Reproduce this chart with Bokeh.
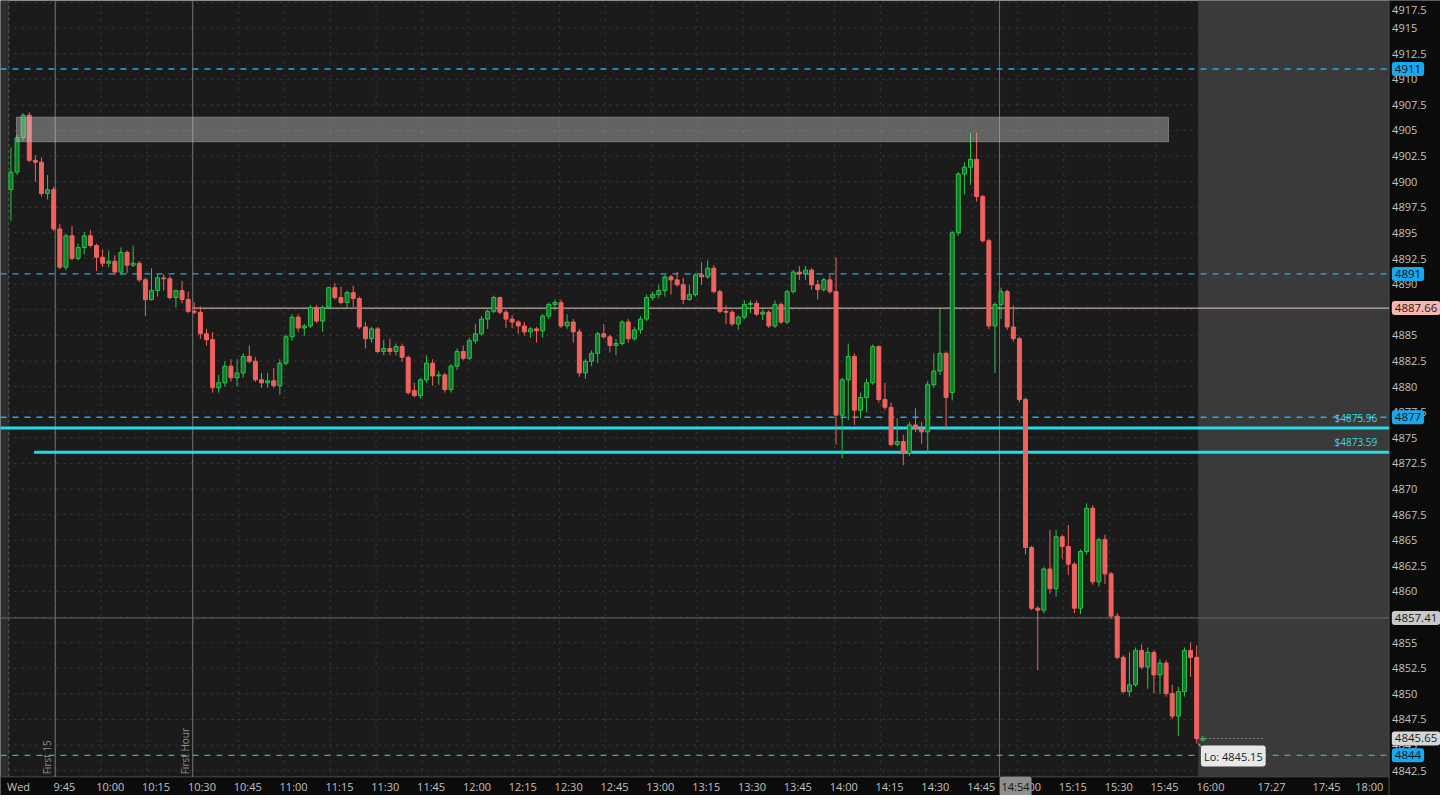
from math import pi
from bokeh.plotting import figure
from bokeh.models import Range1d, BoxAnnotation, Label, ColumnDataSource
from bokeh.core.properties import value
from bokeh.embed import file_html
from bokeh.resources import INLINE

# ---------------- data (2-minute candles, minutes since 9:30) ----------------
BAR_MIN = 2

opens = [
    4899.22, 4900.94, 4904.29, 4906.49, 4902.09, 4901.90, 4898.84, 4899.22, 4895.39, 4891.66,
    4894.72, 4892.52, 4893.58, 4894.72, 4893.77, 4892.62, 4892.04, 4892.24, 4891.18, 4893.10,
    4891.85, 4892.04, 4890.42, 4888.50, 4889.37, 4890.61, 4890.52, 4888.69, 4889.37, 4888.50,
    4887.35, 4887.26, 4885.15, 4884.58, 4879.89, 4880.37, 4881.99, 4880.85, 4881.33, 4882.95,
    4882.47, 4880.66, 4880.37, 4880.56, 4880.08, 4882.28, 4884.86, 4886.78, 4885.72, 4885.92,
    4887.73, 4886.40, 4887.73, 4889.65, 4888.69, 4888.21, 4889.17, 4888.60, 4885.82, 4884.67,
    4885.63, 4883.43, 4883.72, 4883.43, 4883.91, 4882.86, 4879.60, 4879.12, 4880.66, 4882.28,
    4881.04, 4881.14, 4879.70, 4881.99, 4883.43, 4882.76, 4884.48, 4885.15, 4886.59, 4887.35,
    4888.69, 4887.26, 4886.59, 4886.30, 4885.92, 4885.34, 4885.63, 4885.44, 4886.88, 4888.02,
    4888.21, 4885.92, 4886.30, 4885.34, 4881.33, 4882.47, 4883.24, 4885.15, 4884.86, 4884.01,
    4884.20, 4886.30, 4884.67, 4885.53, 4886.59, 4888.69, 4888.98, 4889.37, 4890.71, 4890.42,
    4889.94, 4888.50, 4888.98, 4890.90, 4890.71, 4891.56, 4889.27, 4887.35, 4887.26, 4886.11,
    4886.78, 4888.02, 4888.12, 4887.07, 4887.26, 4885.92, 4888.02, 4886.30, 4889.27, 4891.18,
    4890.99, 4891.37, 4889.94, 4889.46, 4890.42, 4889.27, 4877.21, 4880.66, 4882.95, 4877.69,
    4878.93, 4880.37, 4883.91, 4878.74, 4877.98, 4874.34, 4874.63, 4873.48, 4876.25, 4875.87,
    4875.58, 4880.18, 4881.52, 4883.24, 4879.41, 4895.01, 4900.75, 4901.42, 4902.19, 4898.55,
    4894.24, 4885.92, 4888.02, 4889.27, 4885.82, 4884.67, 4878.74, 4864.29, 4858.36, 4858.17,
    4862.19, 4860.27, 4865.34, 4864.39, 4862.66, 4858.36, 4863.91, 4868.12, 4860.94, 4865.06,
    4861.71, 4857.59, 4853.57, 4850.22, 4850.89, 4854.24, 4852.62, 4854.05, 4851.85, 4853.00,
    4850.03, 4847.83, 4850.22, 4854.24, 4853.57, 4845.50,
]

highs = [
    4903.34, 4904.58, 4906.68, 4906.78, 4902.57, 4902.38, 4900.65, 4899.51, 4895.87, 4894.91,
    4895.68, 4893.96, 4895.11, 4895.30, 4893.96, 4893.39, 4893.29, 4892.81, 4893.58, 4893.29,
    4893.77, 4892.24, 4890.61, 4891.56, 4890.99, 4890.99, 4890.80, 4889.46, 4890.33, 4889.27,
    4888.21, 4887.83, 4885.63, 4885.34, 4881.14, 4882.47, 4882.67, 4882.67, 4883.24, 4884.01,
    4882.86, 4881.33, 4881.33, 4881.81, 4882.67, 4885.05, 4887.07, 4887.07, 4886.11, 4887.92,
    4887.92, 4887.92, 4889.75, 4890.13, 4889.75, 4889.37, 4889.84, 4888.79, 4886.30, 4885.82,
    4885.82, 4884.58, 4884.67, 4884.20, 4884.20, 4883.05, 4880.37, 4880.85, 4883.05, 4882.67,
    4881.52, 4881.33, 4882.19, 4883.72, 4884.01, 4884.77, 4886.11, 4886.88, 4887.54, 4888.88,
    4888.79, 4887.45, 4886.97, 4886.49, 4886.30, 4885.82, 4885.82, 4887.07, 4888.21, 4888.50,
    4888.50, 4887.07, 4886.59, 4885.63, 4882.67, 4883.53, 4885.34, 4886.11, 4885.05, 4884.67,
    4886.49, 4886.59, 4885.82, 4886.88, 4888.98, 4889.27, 4889.94, 4890.90, 4890.90, 4891.18,
    4890.61, 4889.94, 4891.08, 4892.14, 4892.33, 4891.85, 4889.46, 4887.92, 4887.45, 4886.97,
    4888.41, 4888.41, 4888.41, 4887.54, 4887.45, 4888.41, 4888.21, 4889.46, 4891.37, 4891.76,
    4891.76, 4891.56, 4890.42, 4890.61, 4890.90, 4892.62, 4880.85, 4884.20, 4883.24, 4879.41,
    4880.76, 4884.10, 4884.01, 4880.37, 4878.45, 4876.92, 4875.29, 4876.54, 4877.88, 4876.54,
    4880.56, 4883.24, 4887.54, 4883.43, 4895.20, 4900.94, 4901.90, 4904.77, 4904.77, 4898.74,
    4894.43, 4888.21, 4889.65, 4889.46, 4887.92, 4884.86, 4878.93, 4864.48, 4858.55, 4862.38,
    4866.01, 4866.01, 4865.54, 4866.49, 4862.86, 4864.10, 4868.60, 4868.41, 4865.25, 4865.54,
    4861.90, 4857.88, 4853.76, 4854.05, 4854.53, 4854.82, 4854.53, 4854.24, 4853.38, 4853.28,
    4850.89, 4850.70, 4854.53, 4855.01, 4854.72, 4845.90,
]

lows = [
    4896.16, 4900.65, 4904.00, 4901.90, 4899.99, 4898.55, 4898.26, 4895.20, 4891.47, 4891.37,
    4892.33, 4892.33, 4892.91, 4893.58, 4891.28, 4891.66, 4891.66, 4890.90, 4890.90, 4891.08,
    4891.66, 4890.23, 4886.88, 4888.41, 4888.79, 4889.37, 4888.50, 4887.73, 4888.12, 4887.16,
    4887.07, 4884.67, 4884.01, 4879.41, 4879.41, 4879.99, 4880.47, 4879.99, 4880.85, 4882.28,
    4880.47, 4879.89, 4879.89, 4879.89, 4879.22, 4882.09, 4884.48, 4885.34, 4884.96, 4885.72,
    4886.21, 4885.34, 4887.54, 4888.50, 4888.02, 4887.64, 4887.73, 4885.63, 4883.72, 4884.29,
    4883.24, 4883.05, 4883.05, 4883.05, 4882.38, 4879.22, 4878.93, 4878.84, 4880.37, 4880.08,
    4880.18, 4879.41, 4879.41, 4881.61, 4882.57, 4882.57, 4884.20, 4884.96, 4885.63, 4887.16,
    4887.07, 4885.72, 4885.72, 4885.15, 4884.96, 4884.77, 4884.29, 4884.77, 4886.59, 4887.45,
    4885.72, 4885.63, 4884.29, 4880.95, 4880.76, 4881.99, 4882.28, 4884.67, 4883.34, 4883.05,
    4884.01, 4884.29, 4884.48, 4885.15, 4886.40, 4888.41, 4888.60, 4888.79, 4888.98, 4889.75,
    4888.02, 4888.41, 4888.79, 4889.94, 4890.52, 4889.08, 4887.16, 4886.11, 4885.92, 4885.53,
    4886.59, 4887.16, 4886.88, 4886.49, 4885.72, 4885.72, 4886.11, 4886.11, 4889.08, 4890.42,
    4890.42, 4889.46, 4888.50, 4889.27, 4889.08, 4874.34, 4873.00, 4876.73, 4876.25, 4876.92,
    4877.50, 4880.18, 4878.45, 4877.69, 4874.15, 4874.15, 4872.33, 4873.19, 4875.58, 4874.44,
    4873.48, 4879.89, 4881.14, 4875.77, 4878.64, 4894.72, 4898.74, 4899.70, 4898.07, 4894.05,
    4885.63, 4881.33, 4886.59, 4885.53, 4884.39, 4878.45, 4863.62, 4858.17, 4852.33, 4857.88,
    4859.79, 4859.50, 4863.14, 4861.61, 4857.88, 4857.78, 4863.62, 4860.65, 4860.46, 4860.75,
    4857.31, 4853.38, 4850.04, 4849.74, 4850.70, 4852.43, 4850.51, 4850.03, 4849.97, 4849.74,
    4847.54, 4845.92, 4849.74, 4851.66, 4845.15, 4845.35,
]

closes = [
    4900.94, 4904.29, 4906.49, 4902.09, 4901.90, 4898.84, 4899.22, 4895.39, 4891.66, 4894.72,
    4892.52, 4893.58, 4894.72, 4893.77, 4892.62, 4892.04, 4892.24, 4891.18, 4893.10, 4891.85,
    4892.04, 4890.42, 4888.50, 4889.37, 4890.61, 4890.52, 4888.69, 4889.37, 4888.50, 4887.35,
    4887.26, 4885.15, 4884.58, 4879.89, 4880.37, 4881.99, 4880.85, 4881.33, 4882.95, 4882.47,
    4880.66, 4880.37, 4880.56, 4880.08, 4882.28, 4884.86, 4886.78, 4885.72, 4885.92, 4887.73,
    4886.40, 4887.73, 4889.65, 4888.69, 4888.21, 4889.17, 4888.60, 4885.82, 4884.67, 4885.63,
    4883.43, 4883.72, 4883.43, 4883.91, 4882.86, 4879.41, 4879.12, 4880.66, 4882.28, 4881.04,
    4881.14, 4879.70, 4881.99, 4883.43, 4882.76, 4884.48, 4885.15, 4886.59, 4887.35, 4888.69,
    4887.26, 4886.59, 4886.30, 4885.92, 4885.34, 4885.63, 4885.44, 4886.88, 4888.02, 4888.21,
    4885.92, 4886.30, 4885.34, 4881.33, 4882.47, 4883.24, 4885.15, 4884.86, 4884.01, 4884.20,
    4886.30, 4884.67, 4885.53, 4886.59, 4888.69, 4888.98, 4889.37, 4890.71, 4890.42, 4889.94,
    4888.50, 4888.98, 4890.90, 4890.71, 4891.56, 4889.27, 4887.35, 4887.26, 4886.11, 4886.78,
    4888.02, 4888.12, 4887.07, 4887.26, 4885.92, 4888.02, 4886.30, 4889.27, 4891.18, 4890.99,
    4891.37, 4889.94, 4889.46, 4890.42, 4889.27, 4877.21, 4880.66, 4882.95, 4877.69, 4878.93,
    4880.37, 4883.91, 4878.74, 4877.98, 4874.34, 4874.63, 4873.48, 4876.25, 4875.87, 4875.58,
    4880.18, 4881.52, 4883.24, 4878.93, 4895.01, 4900.75, 4901.42, 4902.19, 4898.55, 4894.24,
    4885.92, 4888.02, 4889.27, 4885.82, 4884.67, 4878.74, 4864.29, 4858.36, 4858.17, 4862.19,
    4860.27, 4865.34, 4864.39, 4862.66, 4858.36, 4863.91, 4868.12, 4860.94, 4865.06, 4861.71,
    4857.59, 4853.57, 4850.22, 4850.89, 4854.24, 4852.62, 4854.05, 4851.85, 4853.00, 4850.03,
    4847.83, 4850.22, 4854.24, 4853.57, 4845.63, 4845.65,
]

time_labels = ["Wed", "9:45", "10:00", "10:15", "10:30", "10:45", "11:00", "11:15", "11:30",
               "11:45", "12:00", "12:15", "12:30", "12:45", "13:00", "13:15", "13:30", "13:45",
               "14:00", "14:15", "14:30", "14:45", "15:00", "15:15", "15:30", "15:45", "16:00",
               "17:27", "17:45", "18:00"]
time_slots = [0, 15, 30, 45, 60, 75, 90, 105, 120, 135, 150, 165, 180, 195, 210, 225, 240,
              255, 270, 285, 300, 315, 330, 345, 360, 375, 390, 410, 428, 442]

price_ticks = [4842.5, 4845, 4847.5, 4850, 4852.5, 4855, 4857.5, 4860, 4862.5, 4865, 4867.5,
               4870, 4872.5, 4875, 4877.5, 4880, 4882.5, 4885, 4887.5, 4890, 4892.5, 4895,
               4897.5, 4900, 4902.5, 4905, 4907.5, 4910, 4912.5, 4915, 4917.5]

alert_levels = [4911, 4891, 4877, 4844]
support_levels = [4875.96, 4873.59]
support_start = [-3.0, 8.6]          # minutes since 9:30
first_hour_low = 4887.66
first_hour_start = 60.5
ref_level = 4857.41
last_price = 4845.65
zone_low, zone_high = 4903.9, 4906.3
zone_start, zone_end = 2.8, 379.8
markers = [("First 15", 15), ("First Hour", 60)]
now_slot, now_label = 324, "14:54"
session_end = 389.5

# ---------------- layout constants ----------------
X0, XR = -2.41, 468.79          # whole canvas (chart + price axis)
PX1 = 451.96                    # right edge of chart area
Y0, Y1 = 4840.08, 4917.69       # whole canvas (chart + time axis)
PY0 = 4841.9                    # bottom edge of chart area
FONT = "Open Sans"
AX_BG = "#0b0b0b"
LBL = "#c2c2c2"

p = figure(width=1440, height=795, x_range=Range1d(X0, XR), y_range=Range1d(Y0, Y1),
           output_backend="svg", toolbar_location=None,
           x_axis_type=None, y_axis_type=None,
           background_fill_color="#1b1b1b", border_fill_color=AX_BG,
           outline_line_color=None, min_border=0)

# backgrounds: previous-day strip, after-hours shading, axis panels
p.add_layout(BoxAnnotation(right=0.3, fill_color="#2d2d2d", fill_alpha=1, line_color=None, level="image"))
p.add_layout(BoxAnnotation(left=session_end, fill_color="#3a3a3a", fill_alpha=1, line_color=None, level="image"))
p.add_layout(BoxAnnotation(left=PX1, fill_color=AX_BG, fill_alpha=1, line_color=None, level="image"))
p.add_layout(BoxAnnotation(top=PY0, fill_color=AX_BG, fill_alpha=1, line_color=None, level="image"))

# dotted grid
gx = [s + 0.5 for s in time_slots[1:]]
p.segment(x0=gx, y0=[PY0] * len(gx), x1=gx, y1=[Y1] * len(gx),
          line_color="#3d3d3d", line_dash="2 5", line_width=1)
p.segment(x0=[X0] * len(price_ticks), y0=price_ticks, x1=[PX1] * len(price_ticks), y1=price_ticks,
          line_color="#3d3d3d", line_dash="2 5", line_width=1)

# axis lines
p.segment(x0=[0.3], y0=[PY0], x1=[0.3], y1=[Y1], line_color="#5a5a5a", line_dash="3 3")
p.segment(x0=[PX1], y0=[Y0], x1=[PX1], y1=[Y1], line_color="#4a4a4a", line_width=1)
p.segment(x0=[X0], y0=[PY0], x1=[PX1], y1=[PY0], line_color="#4a4a4a", line_width=1)

# axis tick labels (price on the right, time at the bottom)
p.text(x=[PX1 + 1.0] * (len(price_ticks) - 1), y=price_ticks[:-1],
       text=[f"{t:g}" for t in price_ticks[:-1]], text_align="left", text_baseline="middle",
       text_color=LBL, text_font=value(FONT), text_font_size="11px")
p.text(x=[PX1 + 1.0], y=[Y1 - 0.9], text=[f"{price_ticks[-1]:g}"], text_align="left",
       text_baseline="middle", text_color=LBL, text_font=value(FONT), text_font_size="11px")
p.text(x=[s + 3.5 for s in time_slots], y=[(Y0 + PY0) / 2] * len(time_slots), text=time_labels,
       text_align="center", text_baseline="middle", text_color=LBL,
       text_font=value(FONT), text_font_size="11px")

# vertical marker lines
for name, s in markers:
    p.segment(x0=[s + 0.5], y0=[PY0], x1=[s + 0.5], y1=[Y1], line_color="#767676", line_width=1)
    p.add_layout(Label(x=s + 0.5, y=PY0 + 0.25, text=name, angle=pi / 2, text_align="left",
                       text_baseline="bottom", x_offset=-1, text_color="#8e8e8e",
                       text_font=FONT, text_font_size="10px"))
p.segment(x0=[now_slot + 0.5], y0=[PY0], x1=[now_slot + 0.5], y1=[Y1], line_color="#6e6e6e", line_width=1)

# horizontal levels
p.segment(x0=[X0] * len(alert_levels), y0=alert_levels, x1=[PX1] * len(alert_levels), y1=alert_levels,
          line_color="#1eaee8", line_dash="6 6", line_width=1.4)
p.segment(x0=[X0], y0=[ref_level], x1=[PX1], y1=[ref_level], line_color="#666666", line_width=1)
p.segment(x0=[first_hour_start], y0=[first_hour_low], x1=[PX1], y1=[first_hour_low],
          line_color="#e9cbc6", line_width=1)
p.segment(x0=support_start, y0=support_levels, x1=[PX1] * len(support_levels), y1=support_levels,
          line_color="#22dde8", line_width=3)
for lvl in support_levels:
    p.add_layout(Label(x=448.1, y=lvl, text=f"${lvl:.2f}", text_align="right",
                       text_baseline="bottom", y_offset=3, text_color="#3ed6e4",
                       text_font=FONT, text_font_size="10px"))

# candles
n = min(len(opens), len(highs), len(lows), len(closes))
xs = [BAR_MIN * k + BAR_MIN / 2 for k in range(n)]
up = [closes[i] >= opens[i] for i in range(n)]
src = ColumnDataSource(dict(
    x=xs, high=highs[:n], low=lows[:n],
    top=[max(opens[i], closes[i]) for i in range(n)],
    bottom=[min(opens[i], closes[i]) for i in range(n)],
    fill=["#13792a" if u else "#f0625e" for u in up],
    line=["#2cc44b" if u else "#f0625e" for u in up],
))
p.segment(x0="x", y0="high", x1="x", y1="low", line_color="line", line_width=1, source=src)
p.vbar(x="x", width=1.3, top="top", bottom="bottom", fill_color="fill", line_color="line",
       line_width=1, source=src)

# resistance zone
p.add_layout(BoxAnnotation(left=zone_start, right=zone_end, bottom=zone_low, top=zone_high,
                           fill_color="#c8c8c8", fill_alpha=0.42, line_color="#b0b0b0",
                           line_alpha=0.5, line_width=1))

# last price extension and low callout
lo = min(lows[:n])
p.segment(x0=[xs[-1] - 0.5], y0=[last_price], x1=[411], y1=[last_price],
          line_color="#8a8a8a", line_dash="2 2", line_width=1)
p.segment(x0=[xs[-1] - 1.5], y0=[lo], x1=[xs[-1] + 0.2], y1=[lo - 0.55],
          line_color="#d0d0d0", line_width=1)
p.add_layout(Label(x=390.4, y=lo - 1.22, text=f"Lo: {lo:.2f}", text_align="left",
                   text_baseline="middle", background_fill_color="#e8e8e8",
                   text_color="#1c1c1c", text_font=FONT, text_font_size="11px",
                   padding=3, border_radius=3))

# price tags on the axis
def tag(price, txt, bg, fg):
    p.add_layout(Label(x=PX1 + 0.9, y=price, text=txt, text_align="left", text_baseline="middle",
                       background_fill_color=bg, text_color=fg, text_font=FONT,
                       text_font_size="11.5px", padding=3, border_radius=3))

for lvl in alert_levels:
    tag(lvl, f"{lvl:g}", "#1aa8ec", "#04101a")
tag(first_hour_low, f"{first_hour_low:.2f}", "#f4b8b2", "#3a0e0c")
tag(ref_level, f"{ref_level:.2f}", "#c9c9c9", "#1a1a1a")
tag(last_price, f"{last_price:.2f}", "#d6d6d6", "#1a1a1a")

# current time tag on the time axis
p.add_layout(Label(x=now_slot + 0.5, y=(Y0 + PY0) / 2, text=now_label, text_align="left",
                   text_baseline="middle", background_fill_color="#8e8e8e",
                   text_color="#111111", text_font=FONT, text_font_size="11px",
                   padding=2, border_radius=2))

open("out.html", "w").write(file_html(p, INLINE))
